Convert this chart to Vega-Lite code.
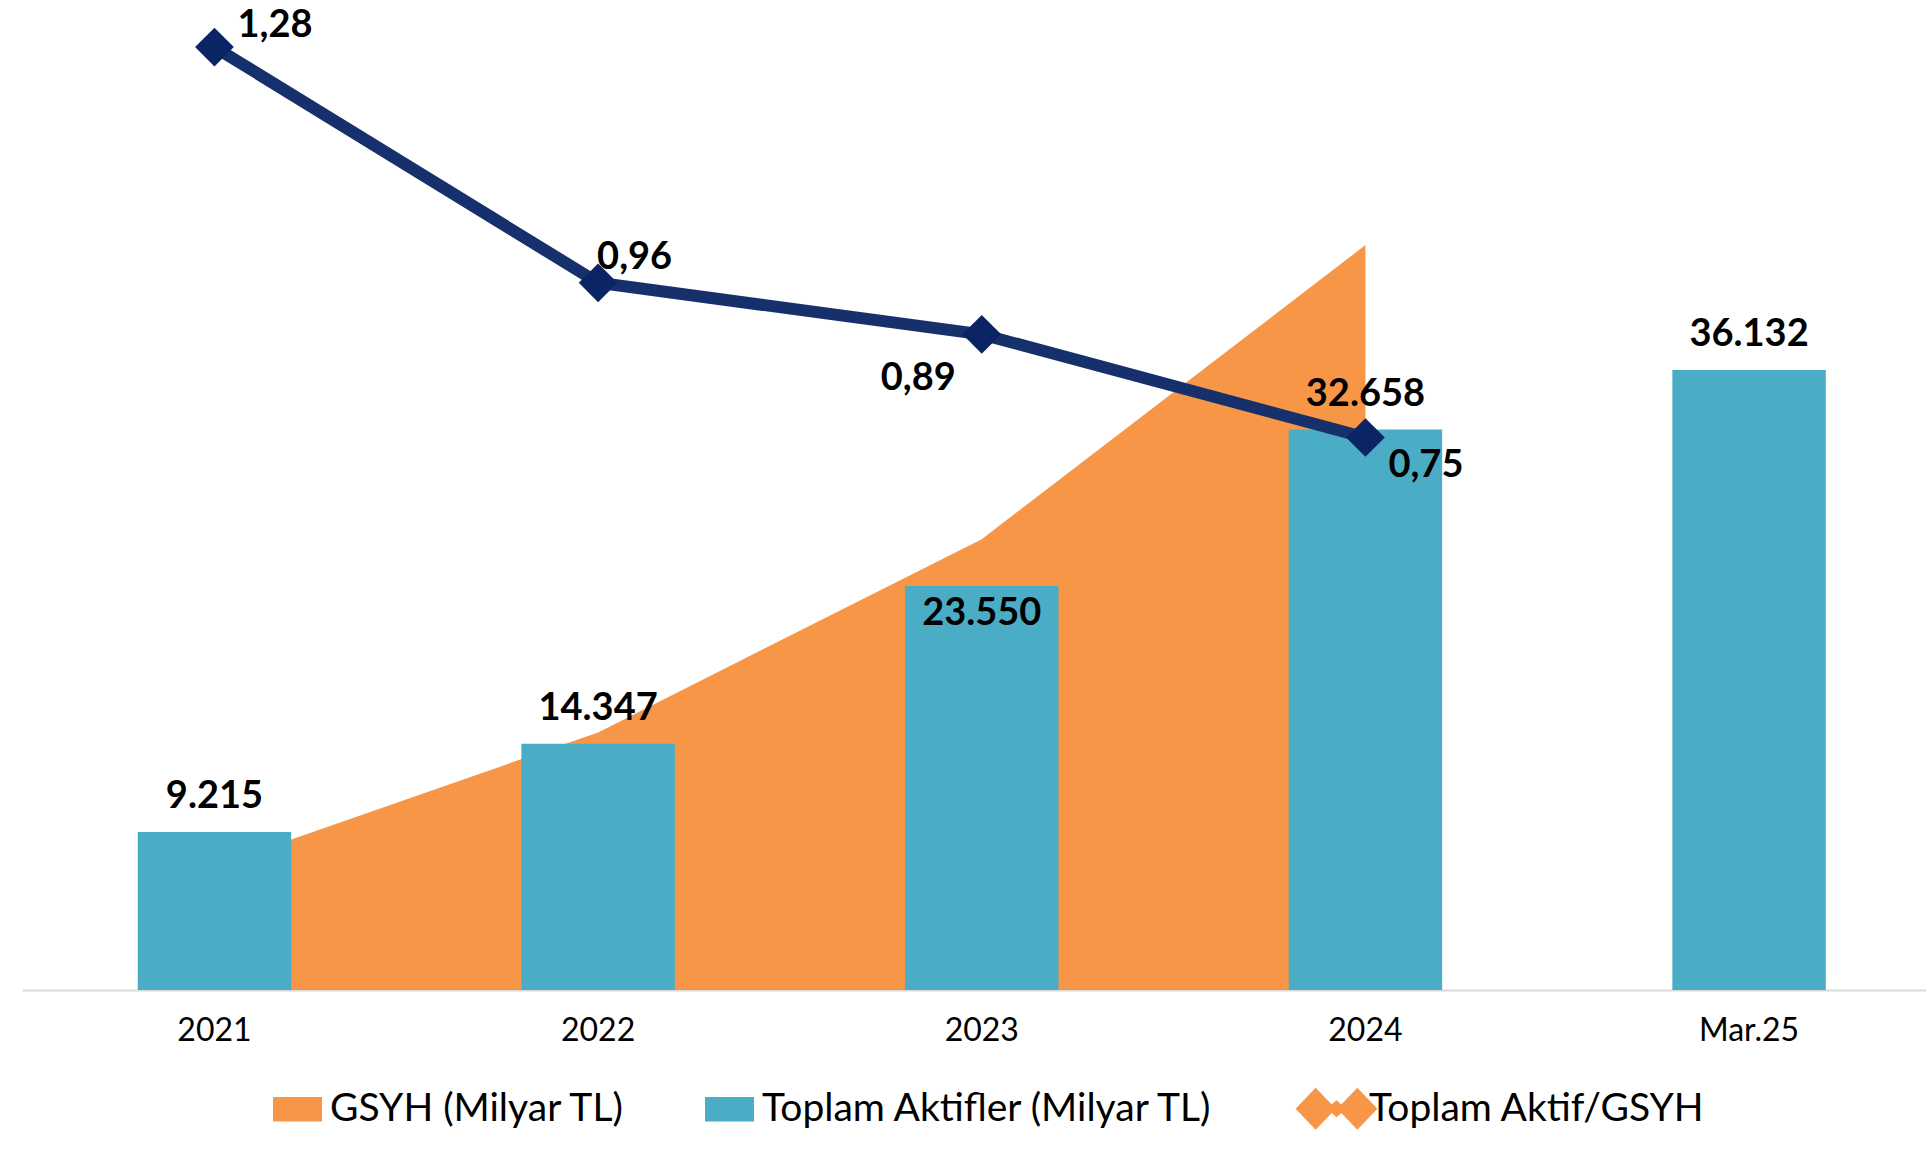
{
  "$schema": "https://vega.github.io/schema/vega-lite/v6.json",
  "autosize": {"type": "none"},
  "width": 1904,
  "height": 980,
  "padding": {"left": 22, "top": 10, "right": 0, "bottom": 159},
  "background": "white",
  "config": {
    "view": {"stroke": null},
    "font": "Lato",
    "locale": {"number": {"decimal": ",", "thousands": ".", "grouping": [3], "currency": ["", " TL"]}}
  },
  "data": {
    "values": [
      {"yil": "2021", "aktif": 9215, "gsyh": 7209, "oran": 1.28},
      {"yil": "2022", "aktif": 14347, "gsyh": 15012, "oran": 0.96},
      {"yil": "2023", "aktif": 23550, "gsyh": 26276, "oran": 0.89},
      {"yil": "2024", "aktif": 32658, "gsyh": 43411, "oran": 0.75},
      {"yil": "Mar.25", "aktif": 36132, "gsyh": null, "oran": null}
    ]
  },
  "encoding": {
    "x": {
      "field": "yil", "type": "nominal", "sort": null,
      "scale": {"paddingInner": 0.6, "paddingOuter": 0.2814, "align": 0.536},
      "axis": {
        "title": null, "labelAngle": 0, "ticks": false,
        "domainColor": "#D9D9D9", "domainWidth": 2,
        "labelFont": "Lato", "labelFontSize": 32, "labelColor": "#000000",
        "labelPadding": 25
      }
    }
  },
  "layer": [
    {
      "mark": {"type": "area", "opacity": 1, "interpolate": "linear"},
      "encoding": {
        "y": {"field": "gsyh", "type": "quantitative", "scale": {"domain": [0, 57113]}, "axis": null},
        "color": {
          "datum": "GSYH (Milyar TL)",
          "scale": {
            "domain": ["GSYH (Milyar TL)", "Toplam Aktifler (Milyar TL)", "Toplam Aktif/GSYH"],
            "range": ["#F79646", "#4BACC6", "#F79646"]
          },
          "legend": {
            "title": null,
            "orient": "none",
            "legendX": 251,
            "legendY": 1074,
            "direction": "horizontal",
            "padding": 0,
            "symbolSize": 2401,
            "symbolStrokeWidth": 0,
            "symbolOpacity": 1,
            "labelFont": "Lato",
            "labelFontSize": 39,
            "labelColor": "#000000",
            "labelOffset": 8,
            "columnPadding": 80,
            "labelLimit": 700,
            "encode": {
              "symbols": {
                "update": {
                  "shape": {"signal": "datum.index === 2 ? 'M-1.67,0L-0.85,-0.86L-0.03,0L-0.85,0.86Z M0.03,0L0.85,-0.86L1.67,0L0.85,0.86Z M-0.4,0L0,-0.35L0.4,0L0,0.35Z M-0.9,-0.12H0.9V0.12H-0.9Z' : 'M-1,-0.5H1V0.5H-1Z'"}
                }
              }
            }
          }
        }
      }
    },
    {
      "mark": {"type": "bar", "opacity": 1},
      "encoding": {
        "y": {"field": "aktif", "type": "quantitative", "scale": {"domain": [0, 57113]}, "axis": null},
        "color": {"datum": "Toplam Aktifler (Milyar TL)"}
      }
    },
    {
      "transform": [{"filter": "datum.yil !== '2023'"}],
      "mark": {"type": "text", "fontWeight": "bold", "fontSize": 38, "font": "Lato", "color": "#000000", "baseline": "alphabetic", "align": "center", "dy": -24},
      "encoding": {
        "y": {"field": "aktif", "type": "quantitative", "scale": {"domain": [0, 57113]}, "axis": null},
        "text": {"field": "aktif", "type": "quantitative", "format": ",.0f"}
      }
    },
    {
      "transform": [{"filter": "datum.yil === '2023'"}],
      "mark": {"type": "text", "fontWeight": "bold", "fontSize": 38, "font": "Lato", "color": "#000000", "baseline": "alphabetic", "align": "center", "dy": 39},
      "encoding": {
        "y": {"field": "aktif", "type": "quantitative", "scale": {"domain": [0, 57113]}, "axis": null},
        "text": {"field": "aktif", "type": "quantitative", "format": ",.0f"}
      }
    },
    {
      "mark": {"type": "line", "color": "#16306B", "strokeWidth": 12, "point": {"shape": "diamond", "size": 1500, "filled": true, "color": "#0B2463", "opacity": 1}},
      "encoding": {
        "y": {"field": "oran", "type": "quantitative", "scale": {"domain": [0, 1.3303]}, "axis": null}
      }
    },
    {
      "transform": [{"filter": "datum.yil === '2021'"}],
      "mark": {"type": "text", "fontWeight": "bold", "fontSize": 38, "font": "Lato", "color": "#000000", "baseline": "alphabetic", "align": "left", "dx": 23, "dy": -10},
      "encoding": {
        "y": {"field": "oran", "type": "quantitative", "scale": {"domain": [0, 1.3303]}, "axis": null},
        "text": {"field": "oran", "type": "quantitative", "format": ".2f"}
      }
    },
    {
      "transform": [{"filter": "datum.yil === '2022'"}],
      "mark": {"type": "text", "fontWeight": "bold", "fontSize": 38, "font": "Lato", "color": "#000000", "baseline": "alphabetic", "align": "left", "dx": -1, "dy": -14},
      "encoding": {
        "y": {"field": "oran", "type": "quantitative", "scale": {"domain": [0, 1.3303]}, "axis": null},
        "text": {"field": "oran", "type": "quantitative", "format": ".2f"}
      }
    },
    {
      "transform": [{"filter": "datum.yil === '2023'"}],
      "mark": {"type": "text", "fontWeight": "bold", "fontSize": 38, "font": "Lato", "color": "#000000", "baseline": "alphabetic", "align": "right", "dx": -26, "dy": 56},
      "encoding": {
        "y": {"field": "oran", "type": "quantitative", "scale": {"domain": [0, 1.3303]}, "axis": null},
        "text": {"field": "oran", "type": "quantitative", "format": ".2f"}
      }
    },
    {
      "transform": [{"filter": "datum.yil === '2024'"}],
      "mark": {"type": "text", "fontWeight": "bold", "fontSize": 38, "font": "Lato", "color": "#000000", "baseline": "alphabetic", "align": "left", "dx": 23, "dy": 40},
      "encoding": {
        "y": {"field": "oran", "type": "quantitative", "scale": {"domain": [0, 1.3303]}, "axis": null},
        "text": {"field": "oran", "type": "quantitative", "format": ".2f"}
      }
    }
  ],
  "resolve": {"scale": {"y": "independent"}}
}
